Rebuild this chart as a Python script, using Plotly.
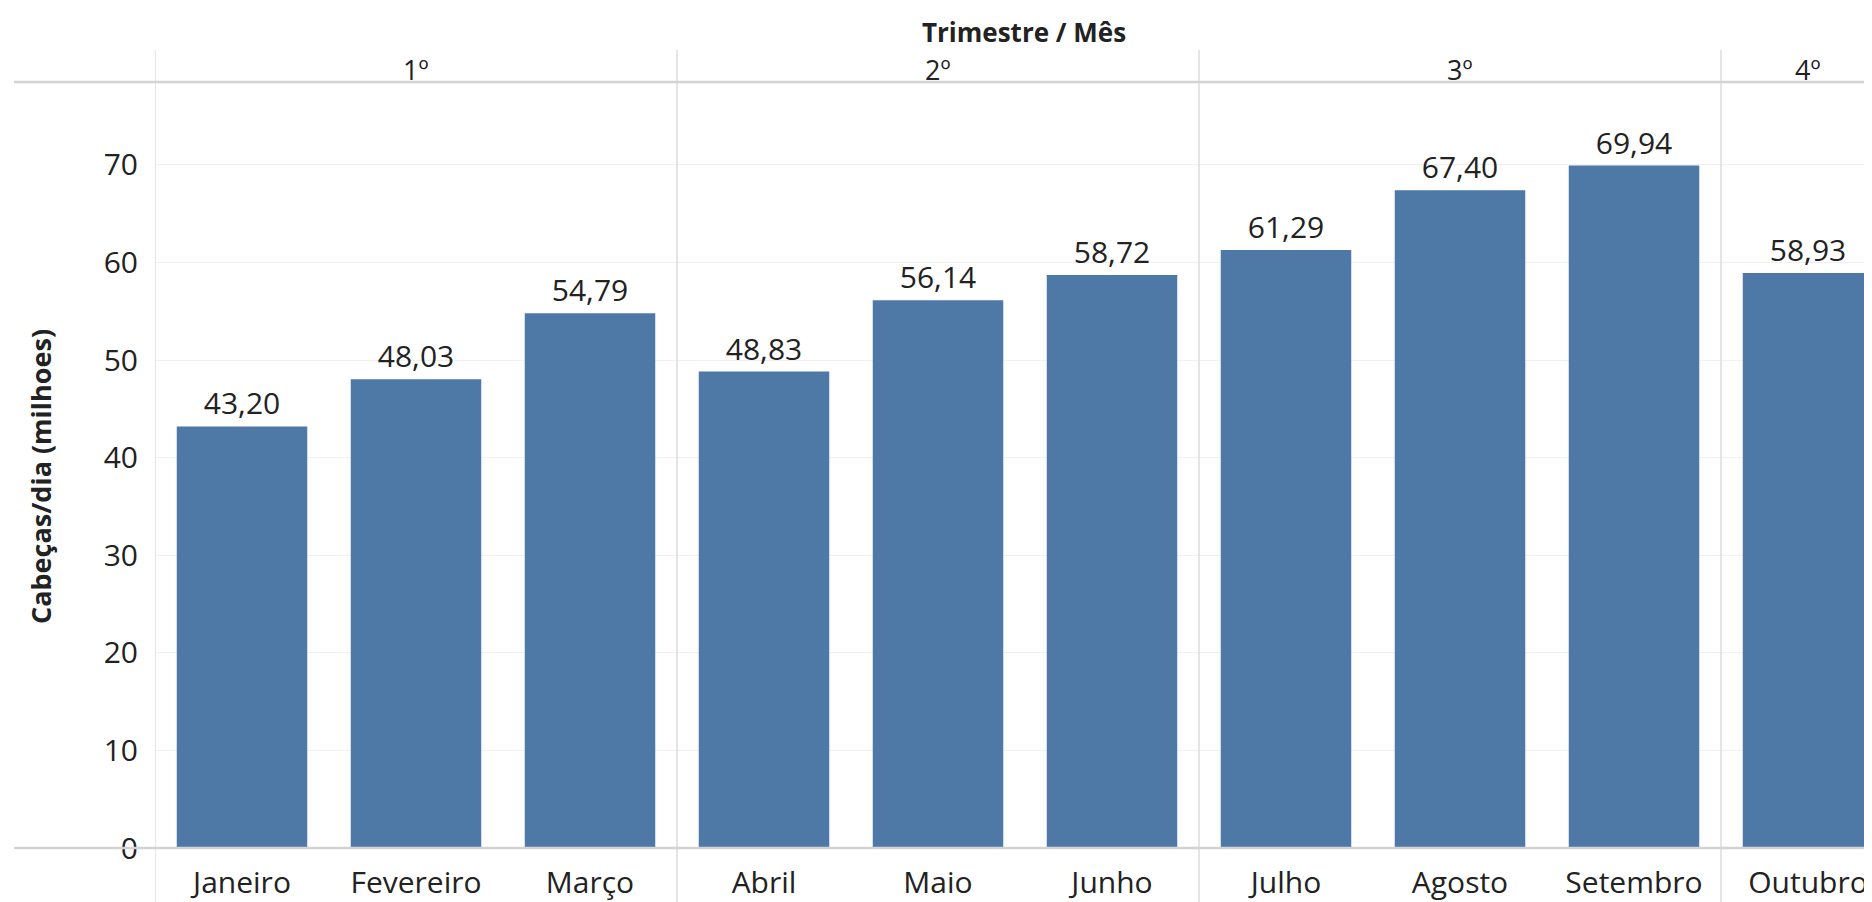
import plotly.graph_objects as go

months = ["Janeiro", "Fevereiro", "Março", "Abril", "Maio", "Junho",
          "Julho", "Agosto", "Setembro", "Outubro"]
quarters = ["1º", "1º", "1º", "2º", "2º", "2º", "3º", "3º", "3º", "4º"]
values = [43.20, 48.03, 54.79, 48.83, 56.14, 58.72, 61.29, 67.40, 69.94, 58.93]
y_ticks = [0, 10, 20, 30, 40, 50, 60, 70]

OFF = 8  # default page body margin
W, H = 1872 - OFF, 902 - OFF
L, R, T = 155 - OFF, 0, 82 - OFF
B = H - (848 - OFF)
PW, PH = W - L - R, H - T - B

FONT = "Open Sans"
TXT = "#222222"
BAR = "#4e79a7"
LINE = "#d3d3d3"
SEP = "#dcdcdc"

def px_x(p):
    return (p - OFF - L) / PW

def px_y(p):
    return (H - B - (p - OFF)) / PH

fig = go.Figure()
fig.add_trace(go.Bar(
    x=months, y=values,
    marker=dict(color=BAR, line=dict(width=0)),
    texttemplate="%{y:.2f}", textposition="outside",
    textfont=dict(family=FONT, size=30, color=TXT),
    cliponaxis=False, width=0.75, hoverinfo="skip",
))

shapes = []
sep_positions = [-0.5] + [i - 0.5 for i in range(1, len(quarters)) if quarters[i] != quarters[i - 1]]
for sx in sep_positions:
    shapes.append(dict(type="line", xref="x", yref="paper", x0=sx, x1=sx,
                       y0=px_y(910), y1=px_y(50), line=dict(color=SEP, width=1.5), layer="above"))
for yy in (0, 1):
    shapes.append(dict(type="line", xref="paper", yref="paper", x0=px_x(14), x1=1,
                       y0=yy, y1=yy, line=dict(color=LINE, width=2.5), layer="above"))

annotations = []
seen = []
for q in quarters:
    if q not in seen:
        seen.append(q)
for q in seen:
    idx = [i for i, v in enumerate(quarters) if v == q]
    cx = sum(idx) / len(idx)
    annotations.append(dict(x=cx, y=px_y(70), xref="x", yref="paper", text=q, showarrow=False,
                            font=dict(family=FONT, size=27, color=TXT), xanchor="center", yanchor="middle"))
annotations.append(dict(x=px_x(1024), y=px_y(32), xref="paper", yref="paper", text="<b>Trimestre / Mês</b>",
                        showarrow=False, font=dict(family=FONT, size=26, color=TXT),
                        xanchor="center", yanchor="middle"))
annotations.append(dict(x=px_x(40), y=px_y(477), xref="paper", yref="paper", text="<b>Cabeças/dia (milhoes)</b>",
                        showarrow=False, textangle=-90, font=dict(family=FONT, size=27, color=TXT),
                        xanchor="center", yanchor="middle"))

fig.update_layout(
    width=W, height=H,
    margin=dict(l=L, r=R, t=T, b=B, pad=0),
    paper_bgcolor="white", plot_bgcolor="white",
    separators=",.",
    showlegend=False,
    bargap=0.25,
    shapes=shapes,
    annotations=annotations,
    xaxis=dict(type="category", range=[-0.5, -0.5 + PW / 174.0], showgrid=False, zeroline=False,
               showline=False, ticks="", tickfont=dict(family=FONT, size=30, color=TXT),
               ticklabelstandoff=14, fixedrange=True),
    yaxis=dict(range=[0, 78.5], tickvals=y_ticks, showgrid=True, gridcolor="#f0f0f0", gridwidth=1,
               zeroline=False, showline=False, ticks="",
               tickfont=dict(family=FONT, size=30, color=TXT), ticklabelstandoff=16, fixedrange=True),
)

fig.write_html("out.html")
